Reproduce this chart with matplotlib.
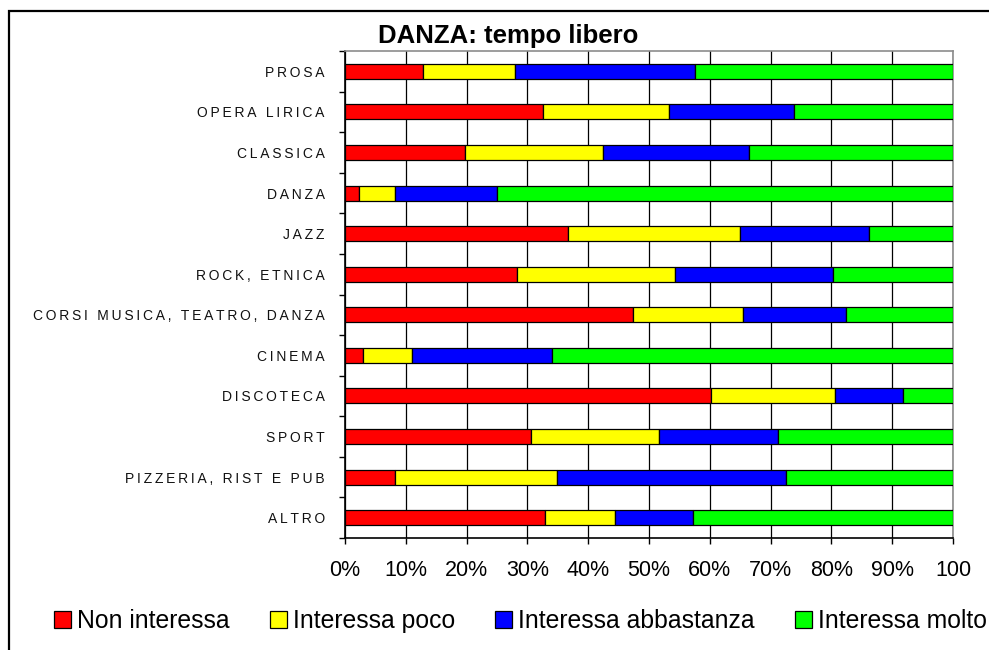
import matplotlib

matplotlib.use("Agg")

import matplotlib.pyplot as plt  # noqa: E402
import numpy as np  # noqa: E402
from matplotlib.patches import Rectangle  # noqa: E402

plt.rcParams["font.family"] = ["Liberation Sans", "DejaVu Sans"]

categories = [
    "PROSA",
    "OPERA LIRICA",
    "CLASSICA",
    "DANZA",
    "JAZZ",
    "ROCK, ETNICA",
    "CORSI MUSICA, TEATRO, DANZA",
    "CINEMA",
    "DISCOTECA",
    "SPORT",
    "PIZZERIA, RIST E PUB",
    "ALTRO",
]
non_interessa = [12.8, 32.6, 19.8, 2.3, 36.6, 28.3, 47.4, 3.0, 60.2, 30.6, 8.2, 32.9]
interessa_poco = [15.2, 20.7, 22.7, 5.9, 28.3, 26.0, 18.0, 8.1, 20.4, 21.0, 26.6, 11.5]
interessa_abbastanza = [29.6, 20.5, 24.0, 16.8, 21.3, 26.0, 17.0, 22.9, 11.2, 19.6, 37.7, 12.9]
interessa_molto = [42.4, 26.2, 33.5, 75.0, 13.8, 19.7, 17.6, 66.0, 8.2, 28.8, 27.5, 42.7]
series_names = ["Non interessa", "Interessa poco", "Interessa abbastanza", "Interessa molto"]
x_ticks = [0, 10, 20, 30, 40, 50, 60, 70, 80, 90, 100]
x_tick_labels = ["0%", "10%", "20%", "30%", "40%", "50%", "60%", "70%", "80%", "90%", "100"]
title = "DANZA: tempo libero"

colors = ["#ff0000", "#ffff00", "#0000ff", "#00ff00"]
W, H = 989, 650

fig = plt.figure(figsize=(W / 100, H / 100), dpi=100)
ax = fig.add_axes([345 / W, 1 - 538 / H, (953 - 345) / W, (538 - 51) / H])

y = np.arange(len(categories))
left = np.zeros(len(categories))
handles = []
for name, vals, col in zip(
    series_names,
    [non_interessa, interessa_poco, interessa_abbastanza, interessa_molto],
    colors,
):
    vals = np.asarray(vals)
    bars = ax.barh(y, vals, left=left, height=0.37, color=col, edgecolor="black",
                   linewidth=0.9, label=name, zorder=3)
    handles.append(bars)
    left = left + vals

ax.set_xlim(0, 100)
ax.set_ylim(len(categories) - 0.5, -0.5)

ax.set_xticks(x_ticks)
ax.set_xticklabels(x_tick_labels, fontsize=15.5)
ax.tick_params(axis="x", direction="out", length=4, width=1, pad=12, color="black")
ax.xaxis.grid(True, color="black", linewidth=0.9, zorder=0)
ax.set_axisbelow(True)

# letter-spaced category labels, no tick on the centre
spaced = ["\u2009".join(c) for c in categories]
ax.set_yticks(y)
ax.set_yticklabels(spaced, fontsize=10, color="#111111")
ax.tick_params(axis="y", length=0, pad=14.5)
ax.set_yticks(np.arange(len(categories) + 1) - 0.5, minor=True)
ax.tick_params(axis="y", which="minor", direction="out", length=4.5, width=1, color="black")

ax.spines["left"].set_color("black")
ax.spines["bottom"].set_color("black")
ax.spines["top"].set_color("#8c8c8c")
ax.spines["right"].set_color("#8c8c8c")
for s in ax.spines.values():
    s.set_linewidth(1.2)

fig.text(508 / W, 1 - 43 / H, title, ha="center", va="baseline",
         fontsize=18.5, fontweight="bold")

fig.legend(
    handles=handles,
    labels=series_names,
    loc="center left",
    bbox_to_anchor=(42 / W, 1 - 621 / H),
    ncol=4,
    frameon=False,
    fontsize=17.8,
    borderpad=0,
    handlelength=0.68,
    handleheight=0.66,
    handletextpad=0.25,
    columnspacing=1.62,
)

# outer chart border (clipped at right/bottom like the source)
fig.patches.append(Rectangle((9 / W, -0.05), 1.2, 1.05 - 11 / H, transform=fig.transFigure,
                             fill=False, edgecolor="black", linewidth=1.6))

fig.savefig("out.png", dpi=100)
plt.close(fig)
